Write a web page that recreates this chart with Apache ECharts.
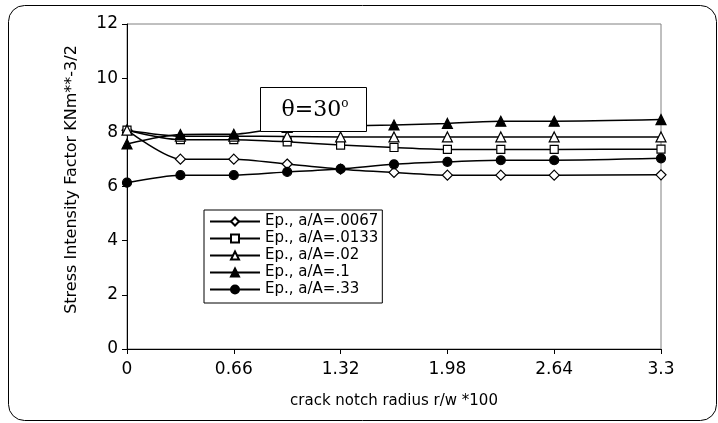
<!DOCTYPE html>
<html>
<head>
<meta charset="utf-8">
<script src="https://cdn.jsdelivr.net/npm/echarts@6/dist/echarts.min.js"></script>
<style>
html,body{margin:0;padding:0;background:#fff;}
#chart{width:718px;height:423px;}
</style>
</head>
<body>
<div id="chart"></div>
<script>
var xValues = [0, 0.33, 0.66, 0.99, 1.32, 1.65, 1.98, 2.31, 2.64, 3.3];
var xTicks = [0, 0.66, 1.32, 1.98, 2.64, 3.3];
var seriesNames = ['Ep., a/A=.0067', 'Ep., a/A=.0133', 'Ep., a/A=.02', 'Ep., a/A=.1', 'Ep., a/A=.33'];
var s0067 = [8.08, 7.01, 7.01, 6.83, 6.64, 6.52, 6.42, 6.42, 6.42, 6.43];
var s0133 = [8.08, 7.73, 7.73, 7.65, 7.53, 7.44, 7.37, 7.37, 7.37, 7.38];
var s02   = [8.08, 7.86, 7.86, 7.85, 7.83, 7.83, 7.83, 7.83, 7.83, 7.83];
var s1    = [7.57, 7.92, 7.93, 8.18, 8.23, 8.27, 8.33, 8.41, 8.41, 8.47];
var s33   = [6.14, 6.42, 6.42, 6.54, 6.65, 6.82, 6.91, 6.97, 6.97, 7.04];
var yTicks = [0, 2, 4, 6, 8, 10, 12];

function pairs(arr){ return xValues.map(function(x,i){ return [x, arr[i]]; }); }

var font = 'DejaVu Sans, Liberation Sans, Arial, sans-serif';
var markers = [
  {symbol:'diamond', size:10, fill:'#fff'},
  {symbol:'rect', size:8, fill:'#fff'},
  {symbol:'triangle', size:10, fill:'#fff'},
  {symbol:'triangle', size:10, fill:'#000'},
  {symbol:'circle', size:9, fill:'#000'}
];
var datasets = [s0067, s0133, s02, s1, s33];

var series = datasets.map(function(d, i){
  return {
    name: seriesNames[i],
    type: 'line',
    data: pairs(d),
    smooth: 0.25,
    symbol: markers[i].symbol,
    symbolSize: markers[i].size,
    showAllSymbol: true,
    lineStyle: {color:'#000', width:1.5},
    itemStyle: {color: markers[i].fill, borderColor:'#000', borderWidth:1.2},
    emphasis: {disabled:true},
    z: 3
  };
});

var chart = echarts.init(document.getElementById('chart'), null, {renderer:'canvas'});
chart.setOption({
  animation: false,
  backgroundColor: '#fff',
  grid: {left:127, top:24, right:57, bottom:74, show:true, borderColor:'#808080', borderWidth:1, backgroundColor:'transparent'},
  xAxis: {
    type:'value', min:0, max:3.3, interval:0.66,
    name:'crack notch radius r/w *100', nameLocation:'middle', nameGap:45,
    nameTextStyle:{fontFamily:font, fontSize:15, color:'#000'},
    axisLine:{show:true, lineStyle:{color:'#000', width:1}},
    axisTick:{show:true, length:5, lineStyle:{color:'#000'}},
    axisLabel:{fontFamily:font, fontSize:17, color:'#000', margin:12,
      formatter:function(v){ var r = Math.round(v*100)/100; return xTicks.indexOf(r) >= 0 ? String(r) : ''; }},
    splitLine:{show:false}
  },
  yAxis: {
    type:'value', min:0, max:12, interval:2,
    name:'Stress Intensity Factor KNm**-3/2', nameLocation:'middle', nameGap:47,
    nameTextStyle:{fontFamily:font, fontSize:16, color:'#000', padding:[0,0,0,14]},
    axisLine:{show:true, lineStyle:{color:'#000', width:1}},
    axisTick:{show:true, length:5, lineStyle:{color:'#000'}},
    axisLabel:{fontFamily:font, fontSize:17, color:'#000', margin:9,
      formatter:function(v){ return yTicks.indexOf(v) >= 0 ? String(v) : ''; }},
    splitLine:{show:false}
  },
  legend: {
    data: seriesNames,
    orient:'vertical', left:204, top:210,
    backgroundColor:'#fff', borderColor:'#000', borderWidth:1,
    padding:[3, 4, 5, 5],
    itemWidth:50, itemHeight:10, itemGap:0,
    textStyle:{fontFamily:font, fontSize:15, color:'#000', lineHeight:17},
    selectedMode:false
  },
  graphic: [
    {type:'rect', z:-10, silent:true, shape:{x:8.5, y:5.5, width:708, height:415, r:16},
     style:{fill:'none', stroke:'#000', lineWidth:1}},
    {type:'rect', z:100, zlevel:1, silent:true, shape:{x:260.5, y:87.5, width:106, height:44},
     style:{fill:'#fff', stroke:'#000', lineWidth:1}},
    {type:'text', z:101, zlevel:1, silent:true, x:315, y:110,
     style:{text:'{a|θ=30}{b|o}', align:'center', verticalAlign:'middle',
       rich:{a:{fontFamily:'DejaVu Serif, Liberation Serif, serif', fontSize:22, fill:'#000'},
             b:{fontFamily:'DejaVu Serif, Liberation Serif, serif', fontSize:12, fill:'#000', verticalAlign:'top', padding:[0,0,12,0]}}}}
  ],
  series: series
});
</script>
</body>
</html>
